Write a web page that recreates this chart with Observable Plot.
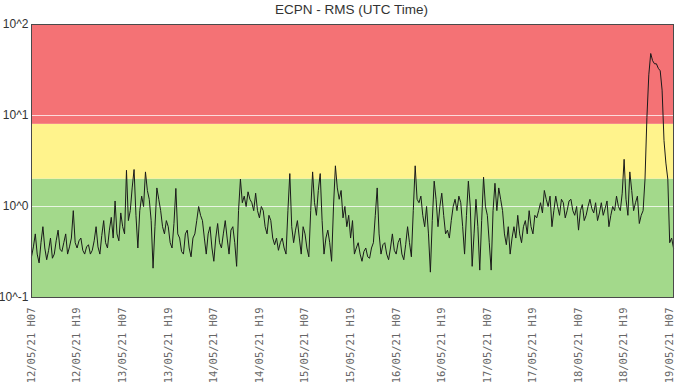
<!DOCTYPE html>
<html>
<head>
<meta charset="utf-8">
<script src="https://cdn.jsdelivr.net/npm/d3@7"></script>
<script src="https://cdn.jsdelivr.net/npm/@observablehq/plot@0.6"></script>
<style>
  html, body { margin: 0; padding: 0; background: #ffffff; }
  #title { height: 20px; width: 699px; font-family: "Liberation Sans Narrow", "Arial Narrow", "Liberation Sans", sans-serif; font-size: 13.5px; color: #333; line-height: 20px; }
  #title span { display: block; text-align: center; padding-left: 4px; }
  #chart svg { display: block; }
</style>
</head>
<body>
<div id="title"><span>ECPN - RMS (UTC Time)</span></div>
<div id="chart"></div>
<script>
// Half-hourly RMS samples starting 12/05/21 07:00 UTC
const startTime = "2021-05-12T07:00:00Z";
const stepMinutes = 30;
const rmsValues = [
  0.28, 0.36, 0.5, 0.3, 0.24, 0.4, 0.6, 0.35, 0.26, 0.33,
  0.45, 0.27, 0.3, 0.42, 0.55, 0.34, 0.32, 0.4, 0.5, 0.3,
  0.36, 0.45, 0.9, 0.4, 0.35, 0.42, 0.45, 0.33, 0.3, 0.36,
  0.38, 0.3, 0.33, 0.42, 0.6, 0.36, 0.3, 0.48, 0.7, 0.4,
  0.35, 0.55, 0.76, 0.45, 1.15, 0.5, 0.42, 0.85, 0.6, 0.5,
  2.5, 0.7, 0.9, 1.6, 2.55, 0.8, 0.35, 0.9, 1.3, 1.0,
  2.4, 1.5, 1.2, 0.7, 0.21, 0.6, 1.6, 1.2, 0.9, 0.6,
  0.5, 0.7, 0.6, 0.4, 0.35, 0.65, 1.58, 0.5, 0.45, 0.32,
  0.3, 0.5, 0.55, 0.35, 0.28, 0.45, 0.5, 0.7, 1.0, 0.8,
  0.7, 0.45, 0.3, 0.5, 0.6, 0.35, 0.25, 0.45, 0.65, 0.4,
  0.35, 0.5, 0.7, 0.45, 0.3, 0.55, 0.6, 0.4, 0.22, 0.9,
  2.0, 1.1, 1.3, 1.0, 1.45, 1.2, 1.1, 0.9, 1.4, 0.9,
  0.75, 1.0, 0.9, 0.6, 0.5, 0.8, 0.7, 0.45, 0.38, 0.45,
  0.33, 0.4, 0.45, 0.35, 0.3, 0.9, 2.3, 0.6, 0.4, 0.55,
  0.7, 0.45, 0.3, 0.6, 0.5, 0.35, 0.28, 0.9, 2.4, 1.1,
  0.8, 1.5, 2.3, 0.7, 0.3, 0.45, 0.55, 0.4, 0.25, 1.0,
  2.8, 1.6, 1.2, 1.5, 0.75, 1.0, 0.6, 0.8, 0.45, 0.7,
  0.3, 0.35, 0.4, 0.3, 0.25, 0.32, 0.35, 0.28, 0.27, 0.35,
  0.4, 0.8, 1.6, 0.5, 0.3, 0.38, 0.4, 0.3, 0.26, 0.35,
  0.5, 0.33, 0.3, 0.4, 0.45, 0.3, 0.26, 0.38, 0.6, 0.4,
  0.28, 0.9, 2.8, 1.2, 1.1, 1.3, 0.8, 0.6, 1.0, 0.5,
  0.19, 0.7, 1.9, 1.2, 0.6, 1.0, 1.4, 0.8, 0.5, 0.55,
  0.45, 0.7, 1.0, 1.2, 0.9, 1.3, 1.1, 0.6, 0.3, 0.8,
  1.9, 1.0, 0.22, 0.5, 1.2, 0.6, 0.2, 0.7, 2.1, 1.0,
  0.8, 0.4, 0.2, 0.9, 1.8, 0.9, 1.6, 1.2, 0.9, 0.5,
  0.38, 0.6, 0.3, 0.45, 0.6, 0.45, 0.8, 0.5, 0.4, 0.6,
  0.7, 0.5, 0.9, 0.6, 0.5, 0.8, 0.75, 0.9, 1.1, 0.85,
  1.5, 1.2, 1.0, 1.3, 0.6, 0.9, 1.3, 1.0, 0.8, 1.2,
  1.1, 0.75, 0.9, 1.15, 1.2, 0.9, 0.8, 1.0, 0.55, 0.9,
  1.05, 0.7, 0.8, 1.0, 1.2, 0.95, 0.85, 1.1, 0.7, 0.85,
  1.1, 0.8, 0.95, 1.15, 0.6, 0.8, 1.0, 0.9, 1.3, 1.0,
  0.9, 1.4, 3.3, 1.2, 0.8, 2.4, 1.5, 0.9, 1.1, 1.3,
  0.65, 0.8, 0.9, 2.0, 9.5, 28, 48, 40, 37, 37,
  33, 31, 19, 5.3, 3.0, 2.0, 0.4, 0.45, 0.35
];

// Alarm zones (lower bound, upper bound) and colours
const zoneLower = [0.1, 2, 8];
const zoneUpper = [2, 8, 100];
const zoneColors = ["#a3d98b", "#fff38c", "#f47275"];

// Axis ticks
const yTickValues = [0.1, 1, 10, 100];
const yTickLabels = ["10^-1", "10^0", "10^1", "10^2"];
const xTickStrings = [
  "2021-05-12T07:00:00Z", "2021-05-12T19:00:00Z", "2021-05-13T07:00:00Z", "2021-05-13T19:00:00Z",
  "2021-05-14T07:00:00Z", "2021-05-14T19:00:00Z", "2021-05-15T07:00:00Z", "2021-05-15T19:00:00Z",
  "2021-05-16T07:00:00Z", "2021-05-16T19:00:00Z", "2021-05-17T07:00:00Z", "2021-05-17T19:00:00Z",
  "2021-05-18T07:00:00Z", "2021-05-18T19:00:00Z", "2021-05-19T07:00:00Z"
];
const xDomainStrings = ["2021-05-12T07:00:00Z", "2021-05-19T08:00:00Z"];

const t0 = new Date(startTime).getTime();
const series = rmsValues.map((v, i) => ({ t: new Date(t0 + i * stepMinutes * 60e3), v }));
const xDomain = xDomainStrings.map(s => new Date(s));
const xTicks = xTickStrings.map(s => new Date(s));
const zones = zoneLower.map((lo, i) => ({ lo, hi: zoneUpper[i], c: zoneColors[i], x1: xDomain[0], x2: xDomain[1] }));

const pad = n => String(n).padStart(2, "0");
const fmtX = d => `${pad(d.getUTCDate())}/${pad(d.getUTCMonth() + 1)}/${pad(d.getUTCFullYear() % 100)} H${pad(d.getUTCHours())}`;
const fmtY = d => yTickLabels[yTickValues.indexOf(d)] ?? "";

const plot = Plot.plot({
  width: 699,
  height: 368,
  marginTop: 4,
  marginLeft: 31,
  marginRight: 26,
  marginBottom: 91,
  style: { background: "transparent", overflow: "visible" },
  x: { type: "utc", domain: xDomain, ticks: xTicks, tickFormat: fmtX, label: null },
  y: { type: "log", domain: [0.1, 100], ticks: yTickValues, tickFormat: fmtY, label: null },
  marks: [
    Plot.rect(zones, { x1: "x1", x2: "x2", y1: "lo", y2: "hi", fill: "c" }),
    Plot.ruleY([1, 10], { stroke: "#ffffff", strokeOpacity: 0.75, strokeWidth: 1 }),
    Plot.line(series, { x: "t", y: "v", stroke: "#1a1a1a", strokeWidth: 1 }),
    Plot.frame({ stroke: "#4a4a4a", strokeWidth: 1 }),
    Plot.axisY({ ticks: yTickValues, tickFormat: fmtY, tickSize: 0, tickPadding: 3,
      fontFamily: "'Liberation Sans Narrow', 'Arial Narrow', sans-serif", fontSize: 12, fill: "#333", label: null }),
    Plot.axisX({ ticks: xTicks, tickFormat: fmtX, tickRotate: -90, tickSize: 0, tickPadding: 10,
      fontFamily: "'DejaVu Sans Mono', monospace", fontSize: 10.5, fill: "#666", label: null })
  ]
});
document.getElementById("chart").appendChild(plot);
</script>
</body>
</html>
